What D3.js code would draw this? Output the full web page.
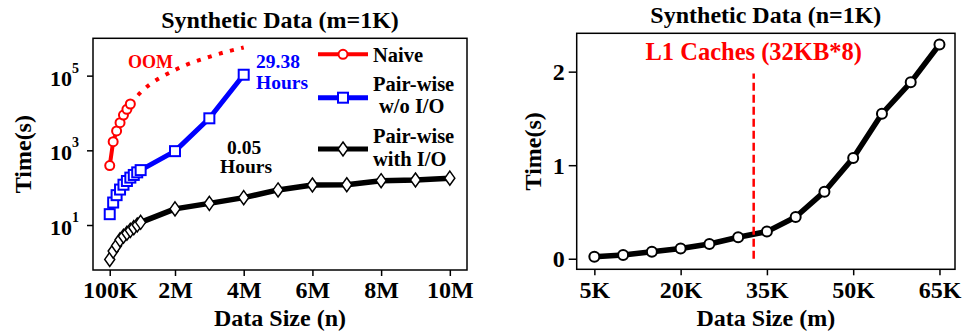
<!DOCTYPE html>
<html>
<head>
<meta charset="utf-8">
<script src="https://cdn.jsdelivr.net/npm/d3@7"></script>
<style>
  body { margin: 0; background: #fff; }
  svg text { font-family: "Liberation Serif", "Times New Roman", serif; font-weight: bold; }
</style>
</head>
<body>
<svg id="chart" width="963" height="333"></svg>
<script>
// left panel: time vs number of series n (m = 1K)
const naiveSizes = [100e3, 200e3, 300e3, 400e3, 500e3, 600e3, 700e3];
const naiveTimes = [390, 1700, 3300, 5500, 8800, 12500, 17400];
const naiveOomSizes = [700e3, 1e6, 2e6, 3e6, 4e6];
const naiveOomTimes = [17400, 35500, 142000, 320000, 568000];
const pairNoIoSizes = [100e3, 200e3, 300e3, 400e3, 500e3, 600e3, 700e3, 800e3, 900e3, 1e6, 2e6, 3e6, 4e6];
const pairNoIoTimes = [19.5, 40, 63, 89, 120, 151, 186, 219, 257, 295, 950, 7200, 105768];
const pairIoSizes = [100e3, 200e3, 300e3, 400e3, 500e3, 600e3, 700e3, 800e3, 900e3, 1e6,
  2e6, 3e6, 4e6, 5e6, 6e6, 7e6, 8e6, 9e6, 10e6];
const pairIoTimes = [1.2, 2.0, 2.8, 4.0, 5.0, 6.0, 7.2, 8.5, 10, 11.8,
  27, 38, 54, 87, 118, 120, 154, 160, 180];
const leftXTicks = [100e3, 2e6, 4e6, 6e6, 8e6, 10e6];
const leftXLabels = ["100K", "2M", "4M", "6M", "8M", "10M"];
const leftYTicks = [10, 1000, 100000];
const leftYExp = ["1", "3", "5"];

// right panel: time vs series length m (n = 1K)
const lengths = [5, 10, 15, 20, 25, 30, 35, 40, 45, 50, 55, 60, 65];
const lengthTimes = [0.02, 0.04, 0.075, 0.11, 0.157, 0.23, 0.29, 0.446, 0.717, 1.078, 1.55, 1.886, 2.29];
const rightXTicks = [5, 20, 35, 50, 65];
const rightYTicks = [0, 1, 2];
const l1Cache = 32.7;

const RED = "#ff0000", BLUE = "#0000ff", BLACK = "#000";
const svg = d3.select("#chart");

function styleAxis(g, size) {
  g.attr("font-family", null).attr("font-size", null);
  g.select(".domain").remove();
  g.selectAll("line").attr("stroke", BLACK).attr("stroke-width", 1.5);
  g.selectAll("text").style("font-size", size + "px").attr("fill", BLACK);
}

function diamond(sel, x, y, hw, hh) {
  sel.append("path")
    .attr("d", `M${x},${y - hh}L${x + hw},${y}L${x},${y + hh}L${x - hw},${y}Z`)
    .attr("fill", "#fff").attr("stroke", BLACK).attr("stroke-width", 1.5);
}

// ---------- left panel ----------
const L = { left: 93, right: 467, top: 38.3, bottom: 270 };
const xL = d3.scaleLinear().domain([-0.387e6, 10.5e6]).range([L.left, L.right]);
const yL = d3.scaleLog().domain([0.624, 1e6]).range([L.bottom, L.top]);

svg.append("g")
  .attr("transform", `translate(0,${L.bottom})`)
  .call(d3.axisBottom(xL).tickValues(leftXTicks).tickSize(6).tickPadding(6)
    .tickFormat((d, i) => leftXLabels[i]))
  .call(g => styleAxis(g, 24))
  .call(g => g.selectAll("text").attr("dy", null).attr("y", 28));

const gyL = svg.append("g")
  .attr("transform", `translate(${L.left},0)`)
  .call(d3.axisLeft(yL).tickValues(leftYTicks).tickSize(6).tickFormat(""))
  .call(g => styleAxis(g, 22));
gyL.selectAll(".tick").each(function (d, i) {
  const t = d3.select(this).append("text")
    .attr("x", -14).attr("y", 9.5).attr("text-anchor", "end")
    .attr("fill", BLACK).style("font-size", "22px");
  t.append("tspan").text("10");
  t.append("tspan").attr("dy", -13).style("font-size", "14px").text(leftYExp[i]);
});

svg.append("rect")
  .attr("x", L.left).attr("y", L.top)
  .attr("width", L.right - L.left).attr("height", L.bottom - L.top)
  .attr("fill", "none").attr("stroke", BLACK).attr("stroke-width", 1.5);

const lineL = d3.line().x(d => xL(d[0])).y(d => yL(d[1]));

// pair-wise with I/O
svg.append("path")
  .attr("d", lineL(d3.zip(pairIoSizes, pairIoTimes)))
  .attr("fill", "none").attr("stroke", BLACK).attr("stroke-width", 5.5).attr("stroke-linejoin", "round");
const gDia = svg.append("g");
pairIoSizes.forEach((s, i) => diamond(gDia, xL(s), yL(pairIoTimes[i]), 5, 7));

// pair-wise w/o I/O
svg.append("path")
  .attr("d", lineL(d3.zip(pairNoIoSizes, pairNoIoTimes)))
  .attr("fill", "none").attr("stroke", BLUE).attr("stroke-width", 5).attr("stroke-linejoin", "round");
svg.append("g").selectAll("rect")
  .data(d3.zip(pairNoIoSizes, pairNoIoTimes))
  .join("rect")
  .attr("x", d => xL(d[0]) - 5).attr("y", d => yL(d[1]) - 5)
  .attr("width", 10).attr("height", 10)
  .attr("fill", "#fff").attr("stroke", BLUE).attr("stroke-width", 2);

// naive, with the out-of-memory estimate dotted
svg.append("path")
  .attr("d", d3.line().curve(d3.curveMonotoneX).x(d => xL(d[0])).y(d => yL(d[1]))(d3.zip(naiveOomSizes, naiveOomTimes)))
  .attr("fill", "none").attr("stroke", RED).attr("stroke-width", 4).attr("stroke-dasharray", "4,7.5");
svg.append("path")
  .attr("d", lineL(d3.zip(naiveSizes, naiveTimes)))
  .attr("fill", "none").attr("stroke", RED).attr("stroke-width", 4);
svg.append("g").selectAll("circle")
  .data(d3.zip(naiveSizes, naiveTimes))
  .join("circle")
  .attr("cx", d => xL(d[0])).attr("cy", d => yL(d[1])).attr("r", 4.5)
  .attr("fill", "#fff").attr("stroke", RED).attr("stroke-width", 2);

// annotations
svg.append("text").attr("x", 128).attr("y", 68).attr("fill", RED).style("font-size", "18px").text("OOM");
svg.append("text").attr("x", 256).attr("y", 68).attr("fill", BLUE).style("font-size", "19.5px").text("29.38");
svg.append("text").attr("x", 256).attr("y", 89).attr("fill", BLUE).style("font-size", "19.5px").text("Hours");
svg.append("text").attr("x", 227).attr("y", 154).attr("fill", BLACK).style("font-size", "19.5px").text("0.05");
svg.append("text").attr("x", 220).attr("y", 173).attr("fill", BLACK).style("font-size", "19.5px").text("Hours");

// legend
const leg = svg.append("g");
const lx0 = 318, lx1 = 368, lxm = 343;
leg.append("line").attr("x1", lx0).attr("x2", lx1).attr("y1", 54.3).attr("y2", 54.3)
  .attr("stroke", RED).attr("stroke-width", 4);
leg.append("circle").attr("cx", lxm).attr("cy", 54.3).attr("r", 4.5)
  .attr("fill", "#fff").attr("stroke", RED).attr("stroke-width", 2);
leg.append("line").attr("x1", lx0).attr("x2", lx1).attr("y1", 97.7).attr("y2", 97.7)
  .attr("stroke", BLUE).attr("stroke-width", 5);
leg.append("rect").attr("x", lxm - 5).attr("y", 92.7).attr("width", 10).attr("height", 10)
  .attr("fill", "#fff").attr("stroke", BLUE).attr("stroke-width", 2);
leg.append("line").attr("x1", lx0).attr("x2", lx1).attr("y1", 149).attr("y2", 149)
  .attr("stroke", BLACK).attr("stroke-width", 5);
diamond(leg, lxm, 149, 5, 7);
[["Naive", 373, 62.3], ["Pair-wise", 373, 90.5], ["w/o I/O", 379, 112.5],
 ["Pair-wise", 373, 142.5], ["with I/O", 373, 165.5]].forEach(([t, x, y]) =>
  leg.append("text").attr("x", x).attr("y", y).attr("fill", BLACK).style("font-size", "20.5px").text(t));

svg.append("text").attr("x", (L.left + L.right) / 2).attr("y", 28).attr("text-anchor", "middle")
  .style("font-size", "24px").text("Synthetic Data (m=1K)");
svg.append("text").attr("x", (L.left + L.right) / 2).attr("y", 326).attr("text-anchor", "middle")
  .style("font-size", "24px").text("Data Size (n)");
svg.append("text").attr("transform", `translate(31,${(L.top + L.bottom) / 2}) rotate(-90)`)
  .attr("text-anchor", "middle").style("font-size", "24px").text("Time(s)");

// ---------- right panel ----------
const R = { left: 576.7, right: 955, top: 33.3, bottom: 269.3 };
const xR = d3.scaleLinear().domain([1.93, 67.7]).range([R.left, R.right]);
const yR = d3.scaleLinear().domain([-0.113, 2.41]).range([R.bottom, R.top]);

svg.append("g")
  .attr("transform", `translate(0,${R.bottom})`)
  .call(d3.axisBottom(xR).tickValues(rightXTicks).tickSize(6).tickFormat(d => d + "K"))
  .call(g => styleAxis(g, 24))
  .call(g => g.selectAll("text").attr("dy", null).attr("y", 29));

svg.append("g")
  .attr("transform", `translate(${R.left},0)`)
  .call(d3.axisLeft(yR).tickValues(rightYTicks).tickSize(8).tickFormat(d3.format("d")))
  .call(g => styleAxis(g, 24))
  .call(g => g.selectAll("text").attr("dy", null).attr("y", 8).attr("x", -12));

svg.append("rect")
  .attr("x", R.left).attr("y", R.top)
  .attr("width", R.right - R.left).attr("height", R.bottom - R.top)
  .attr("fill", "none").attr("stroke", BLACK).attr("stroke-width", 1.5);

svg.append("path")
  .attr("d", d3.line().x(d => xR(d[0])).y(d => yR(d[1]))(d3.zip(lengths, lengthTimes)))
  .attr("fill", "none").attr("stroke", BLACK).attr("stroke-width", 5.5).attr("stroke-linejoin", "round");

svg.append("line")
  .attr("x1", xR(l1Cache)).attr("x2", xR(l1Cache))
  .attr("y1", yR(0)).attr("y2", yR(1.98))
  .attr("stroke", RED).attr("stroke-width", 2.5).attr("stroke-dasharray", "8,4");

svg.append("g").selectAll("circle")
  .data(d3.zip(lengths, lengthTimes))
  .join("circle")
  .attr("cx", d => xR(d[0])).attr("cy", d => yR(d[1])).attr("r", 5)
  .attr("fill", "#fff").attr("stroke", BLACK).attr("stroke-width", 2);

svg.append("text").attr("x", xR(l1Cache)).attr("y", 59.5).attr("text-anchor", "middle")
  .attr("fill", RED).style("font-size", "24.5px").text("L1 Caches (32KB*8)");

svg.append("text").attr("x", (R.left + R.right) / 2).attr("y", 23.3).attr("text-anchor", "middle")
  .style("font-size", "24px").text("Synthetic Data (n=1K)");
svg.append("text").attr("x", (R.left + R.right) / 2).attr("y", 326).attr("text-anchor", "middle")
  .style("font-size", "24px").text("Data Size (m)");
svg.append("text").attr("transform", `translate(541,${(R.top + R.bottom) / 2}) rotate(-90)`)
  .attr("text-anchor", "middle").style("font-size", "24px").text("Time(s)");
</script>
</body>
</html>
